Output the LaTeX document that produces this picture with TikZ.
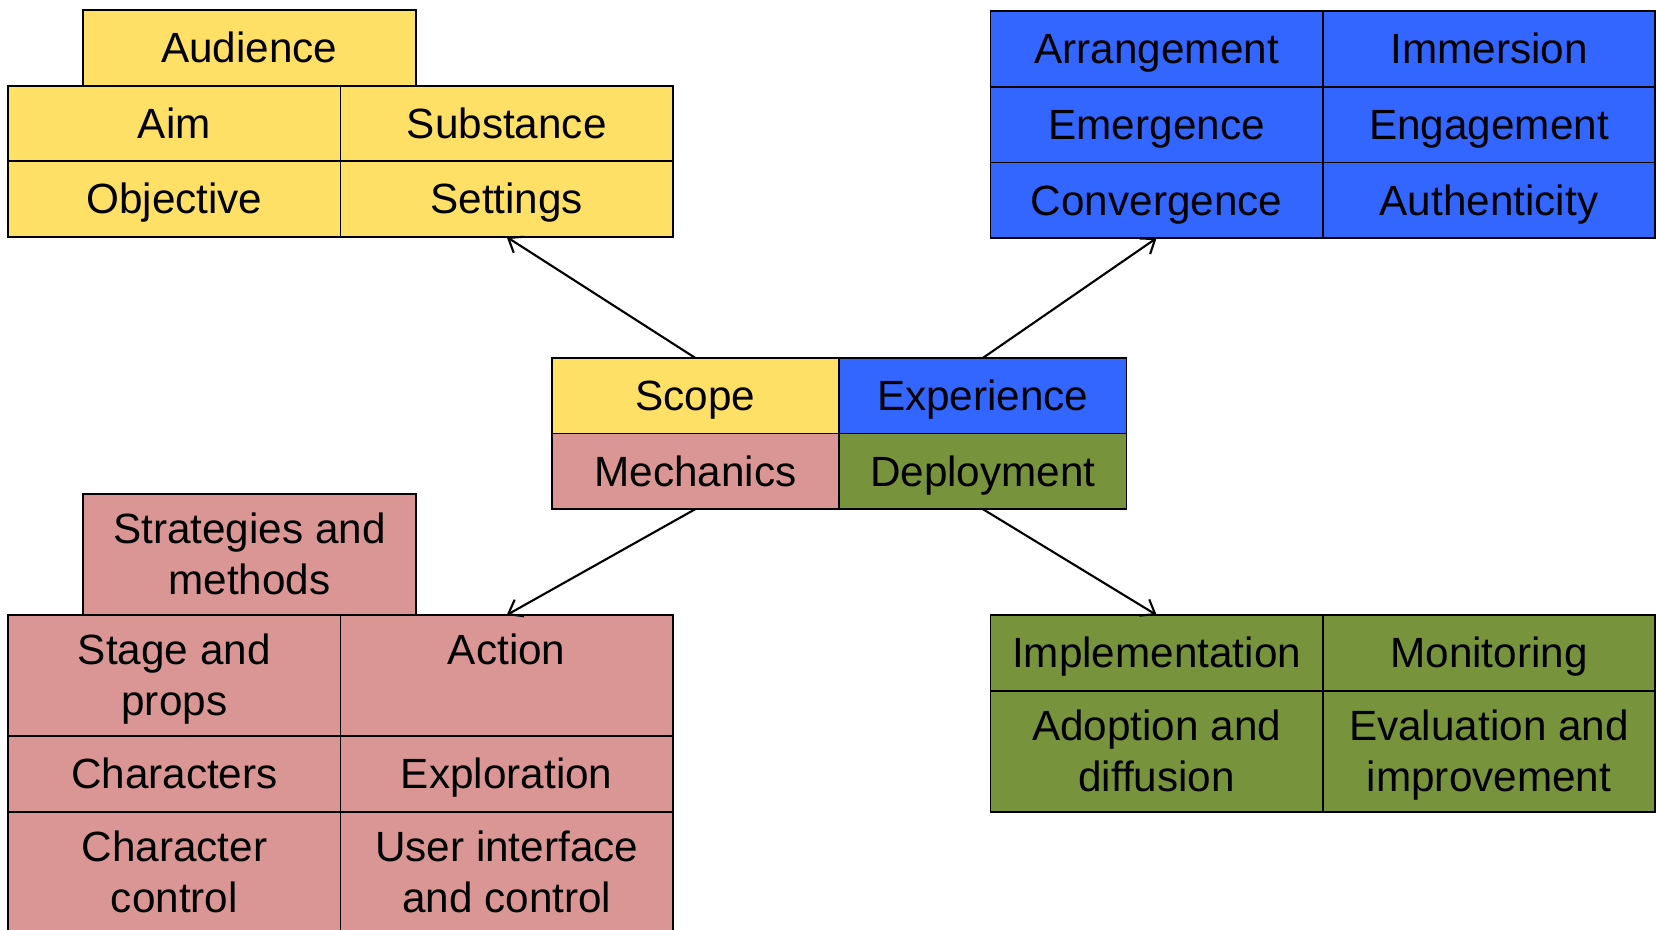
\documentclass[tikz,border=0pt]{standalone}
\usepackage{fontspec}
\setmainfont{Liberation Sans}
\usetikzlibrary{arrows.meta,positioning}

\definecolor{scopeyellow}{RGB}{255,224,102}
\definecolor{expblue}{RGB}{51,102,255}
\definecolor{mechpink}{RGB}{217,150,148}
\definecolor{deplgreen}{RGB}{119,147,60}

\begin{document}
\begin{tikzpicture}[x=1pt, y=1pt, font=\fontsize{40}{48}\selectfont,
  box/.style={draw, line width=1.8pt, inner sep=0pt, outer sep=0pt, minimum width=314.5pt, minimum height=71.5pt},
  cell/.style={box, text height=29pt, text depth=1pt},
  tall/.style={box, minimum height=114.5pt, align=center, text height=77pt, text depth=1pt},
  core/.style={cell, minimum width=272pt},
  arr/.style={-{Straight Barb[length=12pt,width=18pt]}, line width=2pt}]
\clip (0,0) rectangle (1568,-880);

% centre block
\node[core, fill=scopeyellow] (scope) at (658,-374.5) {Scope};
\node[core, right=0pt of scope, fill=expblue] (exp) {Experience};
\node[core, below=0pt of scope, fill=mechpink] (mech) {Mechanics};
\node[core, right=0pt of mech, fill=deplgreen] (depl) {Deployment};

% scope
\node[cell, fill=scopeyellow] (aim) at (165,-117) {Aim};
\node[cell, right=0pt of aim, fill=scopeyellow] (subst) {Substance};
\node[cell, below=0pt of aim, fill=scopeyellow] (obj) {Objective};
\node[cell, right=0pt of obj, fill=scopeyellow] (sett) {Settings};
\node[cell, above right=0pt and 71pt of aim.north west, fill=scopeyellow] (aud) {Audience};

% experience
\node[cell, fill=expblue] (arrang) at (1094.5,-46.5) {Arrangement};
\node[cell, right=0pt of arrang, fill=expblue] (immer) {Immersion};
\node[cell, below=0pt of arrang, fill=expblue] (emerg) {Emergence};
\node[cell, right=0pt of emerg, fill=expblue] (engag) {Engagement};
\node[cell, below=0pt of emerg, fill=expblue] (conv) {Convergence};
\node[cell, right=0pt of conv, fill=expblue] (auth) {Authenticity};

% mechanics
\node[tall, fill=mechpink] (stage) at (165,-639.25) {Stage and\\props};
\node[tall, right=0pt of stage, fill=mechpink] (action) {Action\\\phantom{props}};
\node[cell, below=0pt of stage, fill=mechpink] (chars) {Characters};
\node[cell, right=0pt of chars, fill=mechpink] (explo) {Exploration};
\node[tall, below=0pt of chars, fill=mechpink] (charctl) {Character\\control};
\node[tall, right=0pt of charctl, fill=mechpink] (uictl) {User interface\\and control};
\node[tall, above right=0pt and 71pt of stage.north west, fill=mechpink] (strat) {Strategies and\\methods};

% deployment
\node[cell, fill=deplgreen] (impl) at (1094.5,-617.75) {Implementation};
\node[cell, right=0pt of impl, fill=deplgreen] (monit) {Monitoring};
\node[tall, below=0pt of impl, fill=deplgreen] (adopt) {Adoption and\\diffusion};
\node[tall, right=0pt of adopt, fill=deplgreen] (evalimp) {Evaluation and\\improvement};

\draw[arr] (scope.north) -- (sett.south);
\draw[arr] (exp.north) -- (conv.south);
\draw[arr] (mech.south) -- (action.north);
\draw[arr] (depl.south) -- (impl.north);
\end{tikzpicture}
\end{document}
